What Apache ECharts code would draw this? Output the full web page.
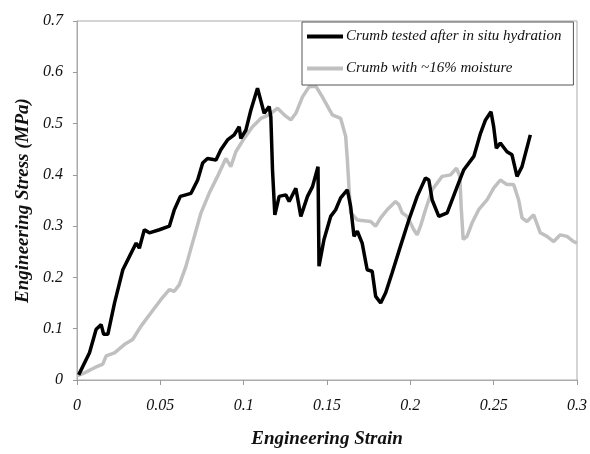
<!DOCTYPE html>
<html><head><meta charset="utf-8">
<script src="https://cdn.jsdelivr.net/npm/echarts@6/dist/echarts.min.js"></script>
<style>html,body{margin:0;padding:0;background:#fff}#c{width:590px;height:454px}</style>
</head><body><div id="c"></div>
<script>
var seriesNames = ['Crumb tested after in situ hydration', 'Crumb with ~16% moisture'];
var xTicks = [0, 0.05, 0.1, 0.15, 0.2, 0.25, 0.3];
var yTicks = [0, 0.1, 0.2, 0.3, 0.4, 0.5, 0.6, 0.7];

var strainHydrated = [0.001,0.0075,0.0115,0.0145,0.016,0.0185,0.0225,0.0275,0.0315,0.0355,0.0374,0.0404,0.0434,0.0494,0.0554,0.0584,0.062,0.0684,0.0724,0.0754,0.0783,0.0834,0.0863,0.0903,0.0943,0.0973,0.0983,0.1013,0.1043,0.1083,0.1123,0.1153,0.1163,0.1173,0.1187,0.1213,0.1253,0.1273,0.1313,0.1343,0.1383,0.1413,0.1446,0.1452,0.1482,0.1522,0.1552,0.1582,0.1622,0.1642,0.1662,0.1682,0.1711,0.1741,0.1771,0.1792,0.1822,0.1852,0.1891,0.1941,0.1991,0.2041,0.2091,0.2111,0.2131,0.2171,0.2221,0.2281,0.2321,0.2381,0.2421,0.2451,0.2484,0.25,0.2516,0.254,0.258,0.261,0.264,0.267,0.272];
var stressHydrated = [0.01,0.053,0.099,0.108,0.089,0.089,0.15,0.215,0.241,0.267,0.257,0.293,0.287,0.293,0.30,0.332,0.358,0.364,0.39,0.423,0.432,0.429,0.449,0.468,0.478,0.494,0.471,0.487,0.526,0.569,0.52,0.533,0.513,0.41,0.322,0.358,0.361,0.348,0.374,0.319,0.358,0.377,0.416,0.222,0.274,0.319,0.332,0.355,0.371,0.338,0.28,0.29,0.267,0.215,0.212,0.163,0.15,0.17,0.209,0.261,0.312,0.358,0.394,0.39,0.351,0.319,0.326,0.377,0.41,0.436,0.481,0.507,0.523,0.494,0.452,0.462,0.445,0.439,0.397,0.416,0.478];

var strainMoist = [0.0,0.0045,0.0105,0.0155,0.0175,0.0225,0.0284,0.0334,0.0384,0.0444,0.0504,0.0554,0.0584,0.0614,0.0654,0.0704,0.0744,0.0793,0.0843,0.0893,0.0923,0.0953,0.1003,0.1053,0.1103,0.1153,0.1203,0.1243,0.1283,0.1313,0.1353,0.1393,0.1433,0.1472,0.1532,0.1582,0.1612,0.1622,0.1632,0.1642,0.1682,0.1762,0.1792,0.1822,0.1861,0.1911,0.1931,0.1951,0.1981,0.2021,0.2041,0.2061,0.2091,0.2131,0.2191,0.2241,0.2277,0.2297,0.2305,0.2317,0.234,0.237,0.241,0.246,0.25,0.254,0.258,0.262,0.265,0.267,0.27,0.274,0.278,0.282,0.286,0.29,0.294,0.298,0.3];
var stressMoist = [0.008,0.014,0.024,0.031,0.047,0.053,0.069,0.079,0.105,0.131,0.157,0.176,0.173,0.186,0.222,0.28,0.326,0.364,0.397,0.432,0.416,0.445,0.471,0.494,0.51,0.517,0.53,0.517,0.507,0.52,0.552,0.572,0.573,0.552,0.517,0.51,0.475,0.43,0.375,0.326,0.312,0.309,0.30,0.316,0.332,0.348,0.342,0.326,0.319,0.293,0.283,0.30,0.332,0.371,0.397,0.40,0.413,0.397,0.338,0.274,0.28,0.306,0.332,0.351,0.374,0.39,0.381,0.381,0.351,0.316,0.309,0.322,0.287,0.28,0.27,0.283,0.28,0.27,0.267];

function pairs(xs, ys) { return xs.map(function (x, i) { return [x, ys[i]]; }); }

var FONT = 'Liberation Serif';
var chart = echarts.init(document.getElementById('c'));
chart.setOption({
  animation: false,
  backgroundColor: '#fff',
  grid: { left: 77, right: 12, top: 21, bottom: 73, show: true, borderColor: '#aaa', borderWidth: 1 },
  legend: {
    data: [seriesNames[0], seriesNames[1]],
    orient: 'vertical', left: 302, top: 22,
    backgroundColor: '#fff', borderColor: '#555', borderWidth: 1,
    padding: [7, 12, 9, 5], itemGap: 17,
    itemWidth: 36, itemHeight: 4, icon: 'rect',
    textStyle: { fontFamily: FONT, fontStyle: 'italic', fontSize: 15, color: '#111', padding: [0, 0, 0, -2] }
  },
  xAxis: {
    type: 'value', min: 0, max: 0.3, interval: 0.05,
    name: 'Engineering Strain', nameLocation: 'middle', nameGap: 50,
    nameTextStyle: { fontFamily: FONT, fontStyle: 'italic', fontWeight: 'bold', fontSize: 19, color: '#111' },
    axisLine: { lineStyle: { color: '#aaa', width: 1 } },
    axisTick: { show: true, length: 5, lineStyle: { color: '#999' } },
    splitLine: { show: false },
    axisLabel: { margin: 18, fontFamily: FONT, fontStyle: 'italic', fontSize: 16, color: '#111',
      formatter: function (v) { var r = Math.round(v * 100) / 100; return xTicks.indexOf(r) >= 0 ? String(r) : ''; } }
  },
  yAxis: {
    type: 'value', min: 0, max: 0.7, interval: 0.1,
    name: 'Engineering Stress (MPa)', nameLocation: 'middle', nameGap: 43,
    nameTextStyle: { fontFamily: FONT, fontStyle: 'italic', fontWeight: 'bold', fontSize: 19, color: '#111' },
    axisLine: { show: true, lineStyle: { color: '#aaa', width: 1 } },
    axisTick: { show: true, length: 4, lineStyle: { color: '#999' } },
    splitLine: { show: false },
    axisLabel: { margin: 14, fontFamily: FONT, fontStyle: 'italic', fontSize: 16, color: '#111',
      formatter: function (v) { var r = Math.round(v * 10) / 10; return yTicks.indexOf(r) >= 0 ? String(r) : ''; } }
  },
  series: [
    { name: seriesNames[1], type: 'line', data: pairs(strainMoist, stressMoist), showSymbol: false, symbol: 'none',
      lineStyle: { color: '#c0c0c0', width: 3.5 }, itemStyle: { color: '#c0c0c0' } },
    { name: seriesNames[0], type: 'line', data: pairs(strainHydrated, stressHydrated), showSymbol: false, symbol: 'none',
      lineStyle: { color: '#000', width: 3.5 }, itemStyle: { color: '#000' } }
  ]
});
</script></body></html>
